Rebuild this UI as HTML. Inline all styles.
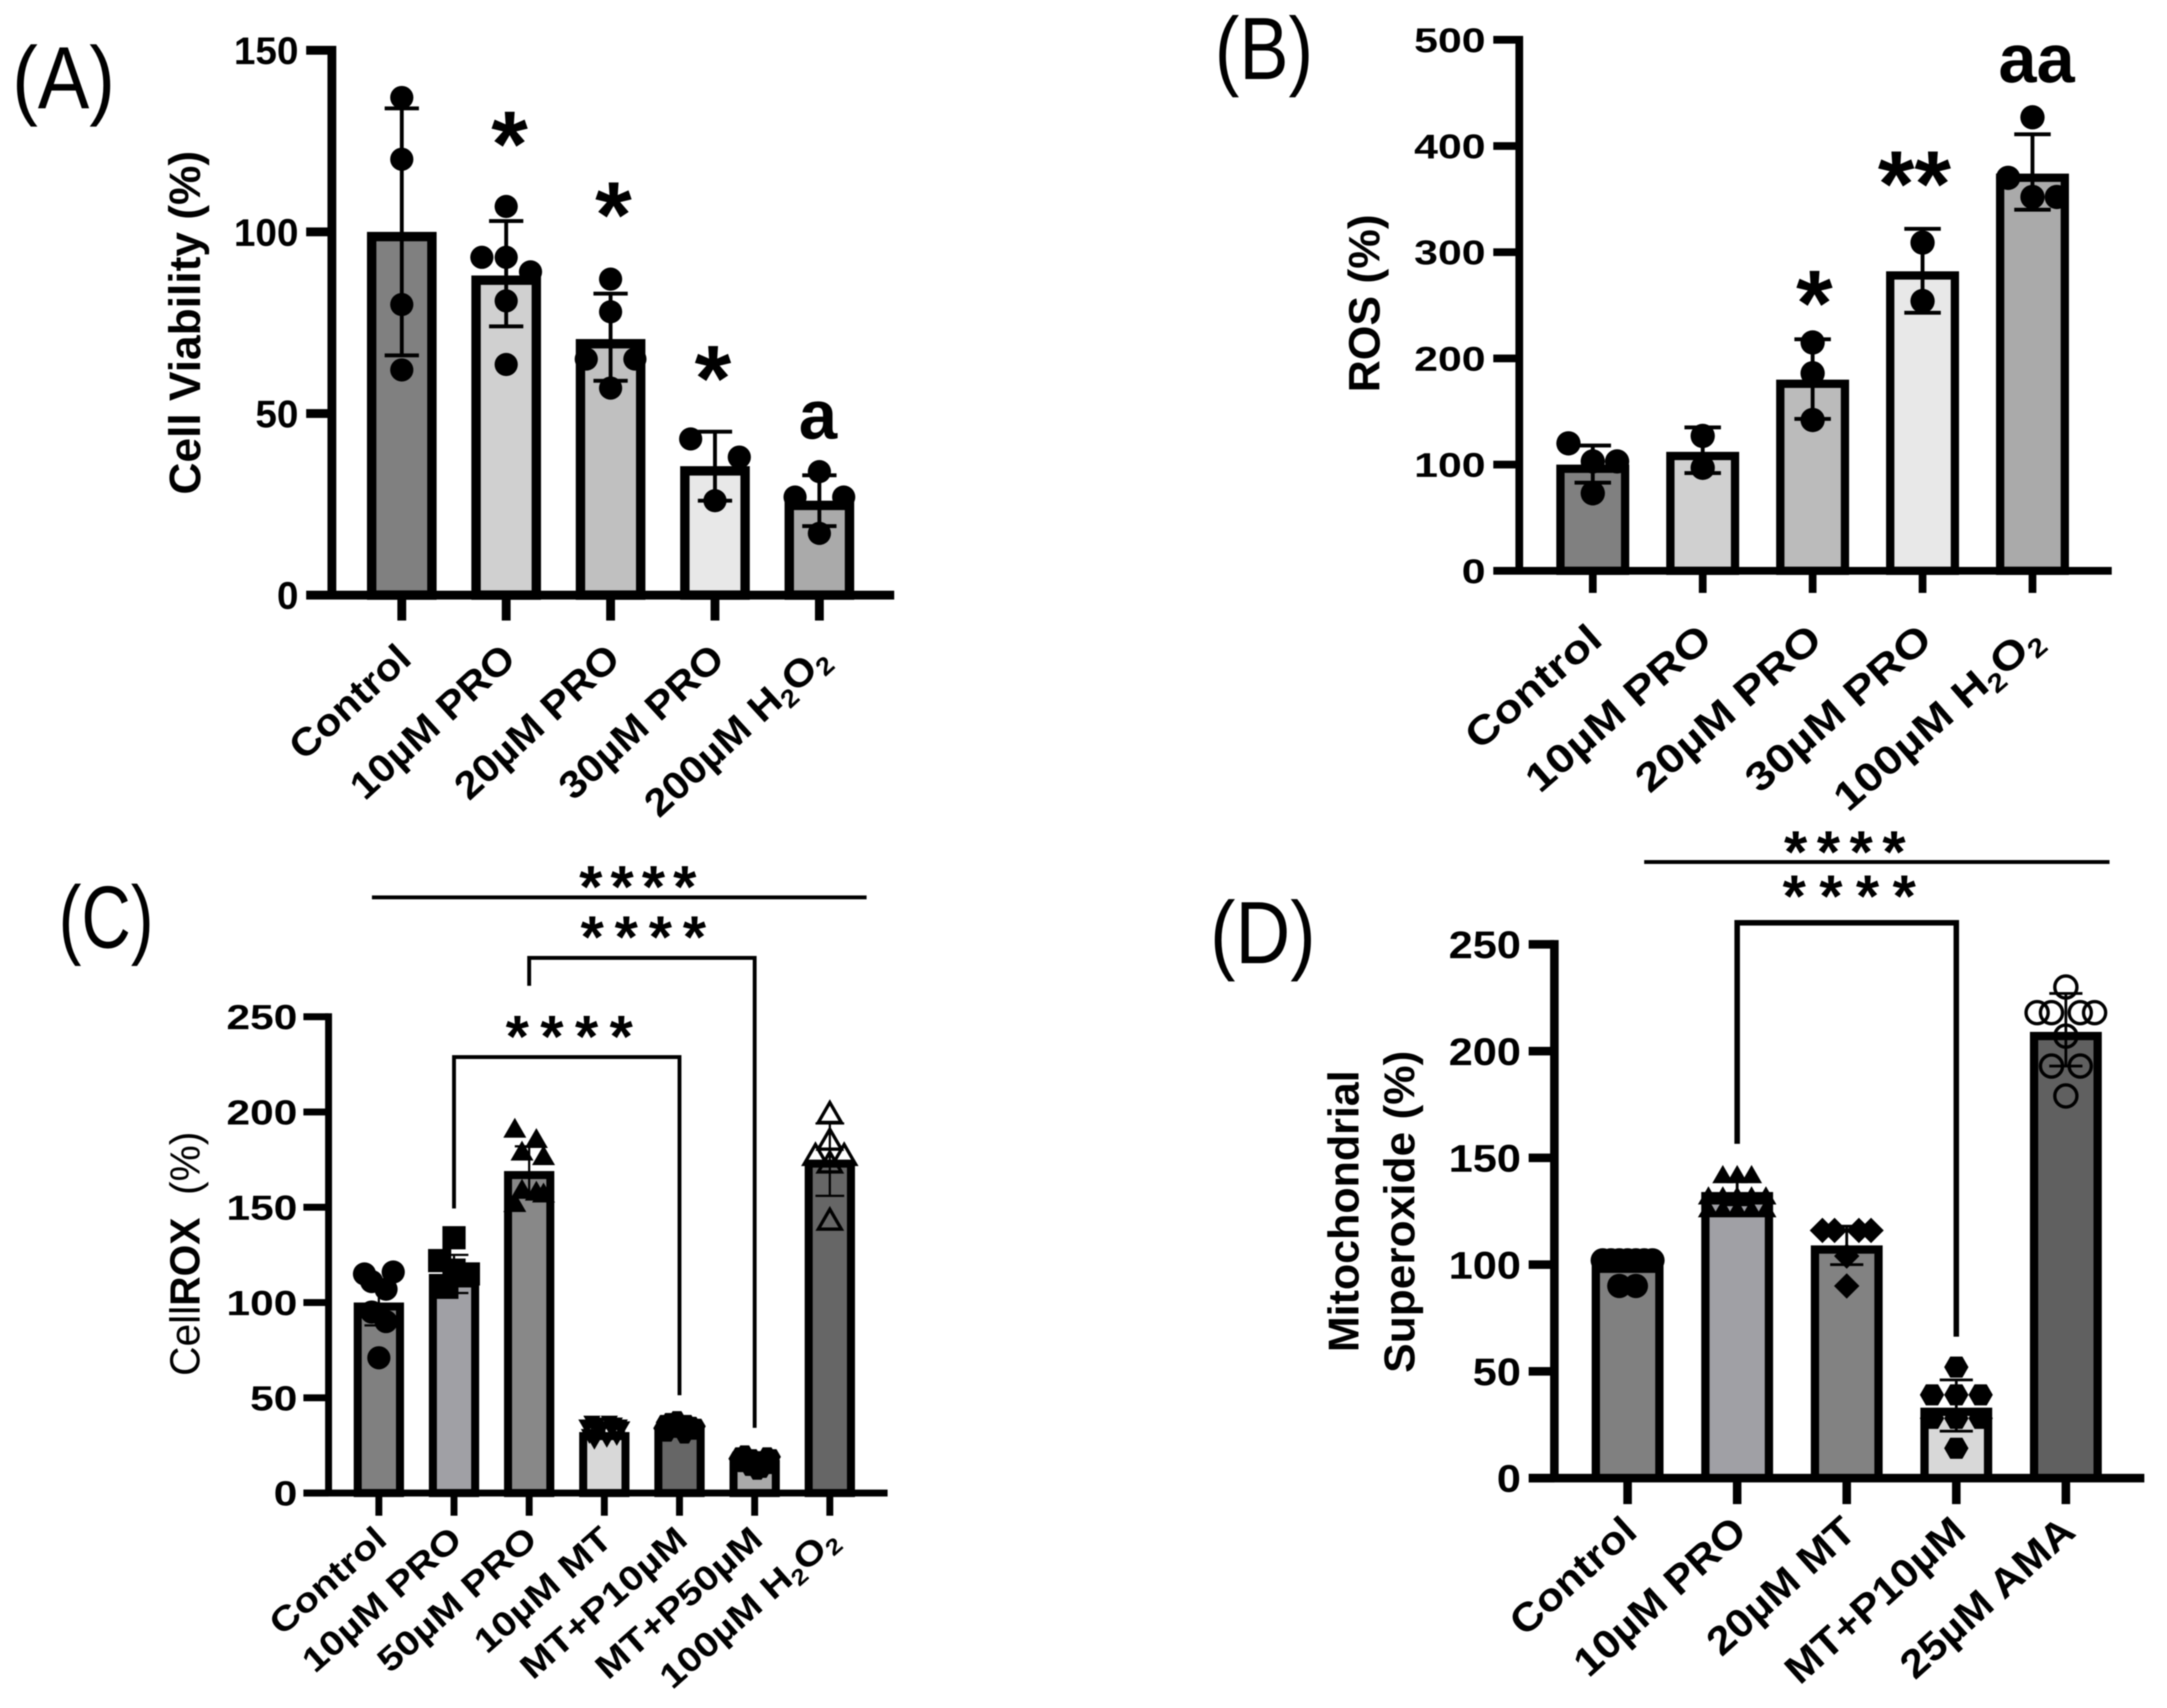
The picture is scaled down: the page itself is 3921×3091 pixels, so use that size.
<!DOCTYPE html>
<html lang="en">
<head>
<meta charset="utf-8">
<title>Cell viability, ROS, CellROX and mitochondrial superoxide bar charts</title>
<style>
html,body{margin:0;padding:0;background:#fff;}
svg{display:block;filter:blur(1px);}
text{font-family:"Liberation Sans",Arial,sans-serif;fill:#000;white-space:pre;}
.b{font-weight:700;}
</style>
</head>
<body>
<svg id="figure" xmlns="http://www.w3.org/2000/svg" width="3921" height="3091" viewBox="0 0 3921 3091">
  <rect x="0" y="0" width="3921" height="3091" fill="#fff"/>

  <g id="panel-a">
    <text x="115" y="196" font-size="160" text-anchor="middle" textLength="186" lengthAdjust="spacingAndGlyphs">(A)</text>
    <text class="b" transform="translate(362,584) rotate(-90)" font-size="80" text-anchor="middle" textLength="622" lengthAdjust="spacingAndGlyphs">Cell Viability (%)</text>
  </g>
  <g id="panel-b">
    <text x="2287" y="143" font-size="160" text-anchor="middle" textLength="178" lengthAdjust="spacingAndGlyphs">(B)</text>
    <text class="b" transform="translate(2496,549) rotate(-90)" font-size="80" text-anchor="middle" textLength="322" lengthAdjust="spacingAndGlyphs">ROS (%)</text>
  </g>
  <g id="panel-c">
    <text x="192" y="1715" font-size="160" text-anchor="middle" textLength="172" lengthAdjust="spacingAndGlyphs">(C)</text>
    <text transform="translate(361,2269) rotate(-90)" font-size="76" text-anchor="middle" textLength="442" lengthAdjust="spacingAndGlyphs">Cell<tspan class="b">ROX</tspan>  (%)</text>
  </g>
  <g id="panel-d">
    <text x="2285" y="1743" font-size="160" text-anchor="middle" textLength="191" lengthAdjust="spacingAndGlyphs">(D)</text>
    <text class="b" transform="translate(2458,2192) rotate(-90)" font-size="78" text-anchor="middle" textLength="510" lengthAdjust="spacingAndGlyphs">Mitochondrial</text>
    <text class="b" transform="translate(2559,2193) rotate(-90)" font-size="78" text-anchor="middle" textLength="583" lengthAdjust="spacingAndGlyphs">Superoxide (%)</text>
  </g>
</svg>
<script>
/* ---------- Panel A data ---------- */
const aCategories = ['Control', '10µM PRO', '20µM PRO', '30µM PRO', '200µM H2O2'];
const aTicks = [0, 50, 100, 150];
const aMeans = [100, 88, 70.5, 35.5, 26];
const aErrLow = [66, 74, 59, 26, 19];
const aErrHigh = [134, 103, 83, 45, 33];
const aPoints = [
  [137, 120, 80, 62],
  [107, 93, 93, 89, 81, 63.5],
  [87, 78, 65, 65, 57],
  [43, 38, 26],
  [34, 27, 27, 17]
];

/* ---------- Panel B data ---------- */
const bCategories = ['Control', '10µM PRO', '20µM PRO', '30µM PRO', '100µM H2O2'];
const bTicks = [0, 100, 200, 300, 400, 500];
const bMeans = [100, 112, 180, 282, 374];
const bErrLow = [83, 92, 143, 243, 340];
const bErrHigh = [118, 135, 218, 322, 411];
const bPoints = [
  [120, 103, 103, 73],
  [127, 97],
  [215, 186, 142],
  [309, 254],
  [427, 370, 352, 352]
];

/* ---------- Panel C data ---------- */
const cCategories = ['Control', '10µM PRO', '50µM PRO', '10µM MT', 'MT+P10µM', 'MT+P50µM', '100µM H2O2'];
const cTicks = [0, 50, 100, 150, 200, 250];
const cMeans = [100, 115, 169, 32, 34, 17.5, 175];
const cErrLow = [88, 105, 155, 30, 31, 14, 156];
const cErrHigh = [112, 125, 182, 36, 37, 20, 194];
const cPoints = [
  [115, 111, 107, 116, 95, 90, 71],
  [134, 122, 108, 117, 114, 115],
  [190, 178, 184.6, 175.6, 151, 158, 157, 156],
  [36, 31, 38, 28, 37, 33, 35, 29, 38, 34, 37, 30, 36, 35],
  [34, 37, 31, 38, 35, 33, 39, 36, 30, 37, 34, 36, 32, 35],
  [18, 20, 15, 21, 17, 13, 19, 11, 18, 12, 16, 20, 14, 19],
  [198, 184, 176, 172, 176, 142]
];

/* ---------- Panel D data ---------- */
const dCategories = ['Control', '10µM PRO', '20µM MT', 'MT+P10µM', '25µM AMA'];
const dTicks = [0, 50, 100, 150, 200, 250];
const dMeans = [100, 134, 109, 33, 209];
const dErrLow = [97, 128, 100, 22, 193];
const dErrHigh = [106, 140, 118, 46, 227];
const dPoints = [
  [102, 102, 102, 102, 102, 102, 102, 90, 90],
  [141, 141, 141, 131, 131, 131, 131, 131, 125, 125, 125, 125, 125],
  [116, 116, 116, 116, 104, 90],
  [52, 39, 39, 39, 28, 28, 28, 14],
  [230, 218, 218, 218, 218, 207, 193, 193, 179]
];

const SVGNS = 'http://www.w3.org/2000/svg';

function make(parent, tag, attrs) {
  const el = document.createElementNS(SVGNS, tag);
  for (const k in attrs) el.setAttribute(k, attrs[k]);
  parent.appendChild(el);
  return el;
}

function markerPath(kind, x, y, r) {
  const pts = [];
  let sides = 0, start = 0;
  if (kind === 'triangle' || kind === 'openTriangle') { sides = 3; start = -90; }
  if (kind === 'invTriangle') { sides = 3; start = 90; }
  if (kind === 'diamond') { sides = 4; start = 0; }
  if (kind === 'hexagon') { sides = 6; start = 0; }
  for (let i = 0; i < sides; i++) {
    const a = (start + i * 360 / sides) * Math.PI / 180;
    pts.push((x + r * Math.cos(a)).toFixed(1) + ',' + (y + r * Math.sin(a)).toFixed(1));
  }
  return pts.join(' ');
}

function swarmOffsets(values, gap, step) {
  /* groups neighbouring values, then spreads each group sideways */
  const out = new Array(values.length).fill(0);
  const order = values.map((v, i) => i).sort((p, q) => values[q] - values[p] || p - q);
  let group = [];
  const flush = () => {
    const idx = group.slice().sort((p, q) => p - q);
    const n = idx.length;
    idx.forEach((id, k) => {
      let slot = k - (n - 1) / 2;
      if (n % 2 === 0) slot = slot < 0 ? slot - 0.5 : slot + 0.5;
      out[id] = slot * step;
    });
    group = [];
  };
  order.forEach((id, k) => {
    if (k > 0 && values[order[k - 1]] - values[id] >= gap) flush();
    group.push(id);
  });
  flush();
  return out;
}

function drawPanel(cfg) {
  const g = document.getElementById(cfg.id);
  const yMax = cfg.ticks[cfg.ticks.length - 1];
  const yScale = v => cfg.y0 - (v / yMax) * (cfg.y0 - cfg.yTop);
  const xScale = i => cfg.firstX + i * cfg.stepX;

  cfg.means.forEach((m, i) => {
    const bar = make(g, 'rect', {
      x: xScale(i) - cfg.barW / 2 + cfg.barStroke / 2,
      y: yScale(m) + cfg.barStroke / 2,
      width: cfg.barW - cfg.barStroke,
      height: Math.max(0, cfg.y0 - yScale(m) - cfg.barStroke / 2),
      fill: cfg.fills[i],
      stroke: '#000',
      'stroke-width': cfg.barStroke
    });
    
    
  });

  cfg.points.forEach((vals, i) => {
    const offs = swarmOffsets(vals, cfg.gaps[i], cfg.swarmStep[i]);
    const kind = cfg.markers[i];
    const r = cfg.sizes[i];
    vals.forEach((v, k) => {
      const px = xScale(i) + offs[k];
      const py = yScale(v);
      let mark;
      if (kind === 'circle') {
        mark = make(g, 'circle', { cx: px, cy: py, r: r, fill: '#000' });
      } else if (kind === 'openCircle') {
        mark = make(g, 'circle', { cx: px, cy: py, r: r, fill: 'none', stroke: '#000', 'stroke-width': 6 });
      } else if (kind === 'square') {
        mark = make(g, 'rect', { x: px - r, y: py - r, width: 2 * r, height: 2 * r, fill: '#000' });
      } else if (kind === 'openTriangle') {
        mark = make(g, 'polygon', { points: markerPath(kind, px, py, r), fill: 'none', stroke: '#000', 'stroke-width': 6 });
      } else {
        mark = make(g, 'polygon', { points: markerPath(kind, px, py, r), fill: '#000' });
      }
      
      
    });
  });

  cfg.means.forEach((m, i) => {
    const cx = xScale(i);
    const stem = make(g, 'line', { x1: cx, x2: cx, y1: yScale(cfg.low[i]), y2: yScale(cfg.high[i]), stroke: '#000', 'stroke-width': cfg.errStroke });
    
    
    [cfg.low[i], cfg.high[i]].forEach(val => {
      const cap = make(g, 'line', { x1: cx - cfg.capW / 2, x2: cx + cfg.capW / 2, y1: yScale(val), y2: yScale(val), stroke: '#000', 'stroke-width': cfg.errStroke });
      
      
    });
  });

  const yAxis = make(g, 'line', { x1: cfg.x0, x2: cfg.x0, y1: cfg.yTop - cfg.axisStroke / 2, y2: cfg.y0, stroke: '#000', 'stroke-width': cfg.axisStroke });
  
  
  const xAxis = make(g, 'line', { x1: cfg.tickLeft, x2: cfg.xRight, y1: cfg.y0, y2: cfg.y0, stroke: '#000', 'stroke-width': cfg.axisStroke });
  
  

  cfg.ticks.forEach(t => {
    const ty = yScale(t);
    const tick = make(g, 'line', { x1: cfg.tickLeft, x2: cfg.x0, y1: ty, y2: ty, stroke: '#000', 'stroke-width': cfg.axisStroke });
    
    
    const lab = make(g, 'text', {
      transform: 'translate(' + cfg.tickTextX + ',' + (ty + cfg.tickFs * 0.36) + ') scale(' + cfg.tickStretch + ',1)',
      'font-size': cfg.tickFs,
      'font-weight': 700,
      'text-anchor': 'end'
    });
    lab.textContent = String(t);
    
    
  });

  cfg.cats.forEach((c, i) => {
    const cx = xScale(i);
    const tick = make(g, 'line', { x1: cx, x2: cx, y1: cfg.y0, y2: cfg.tickBottom, stroke: '#000', 'stroke-width': cfg.axisStroke });
    
    
    const lab = make(g, 'text', {
      transform: 'translate(' + (cx + cfg.labelDx) + ',' + cfg.labelY + ') rotate(' + cfg.labelAngle + ') scale(' + cfg.labelStretch + ',1)',
      'font-size': cfg.labelFs,
      'font-weight': 700,
      'text-anchor': 'end'
    });
    
    
    const hit = c.indexOf('H2O2');
    if (hit < 0) {
      lab.textContent = c;
    } else {
      lab.appendChild(document.createTextNode(c.slice(0, hit) + 'H'));
      const s1 = make(lab, 'tspan', { dy: cfg.labelFs * 0.2, 'font-size': cfg.labelFs * 0.65 });
      s1.textContent = '2';
      const o = make(lab, 'tspan', { dy: -cfg.labelFs * 0.2 });
      o.textContent = 'O';
      const s2 = make(lab, 'tspan', { dy: cfg.labelFs * 0.2, 'font-size': cfg.labelFs * 0.65 });
      s2.textContent = '2';
    }
  });

  return { g, xScale, yScale };
}

function stars(g, text, cx, cy, fs, width) {
  const t = make(g, 'text', { x: cx, y: cy + fs * 0.56, 'font-size': fs, 'font-weight': 700, 'text-anchor': 'middle' });
  if (width) t.setAttribute('textLength', width);
  t.textContent = text;
  
  
}

function letterMark(g, text, cx, base, fs) {
  const t = make(g, 'text', { x: cx, y: base, 'font-size': fs, 'font-weight': 700, 'text-anchor': 'middle' });
  t.textContent = text;
  
  
}

function bracket(g, xa, ya, top, xb, yb, w) {
  const p = make(g, 'polyline', {
    points: xa + ',' + ya + ' ' + xa + ',' + top + ' ' + xb + ',' + top + ' ' + xb + ',' + yb,
    fill: 'none', stroke: '#000', 'stroke-width': w
  });
  
  
}

function spanLine(g, xa, xb, y, w) {
  const l = make(g, 'line', { x1: xa, x2: xb, y1: y, y2: y, stroke: '#000', 'stroke-width': w });
  
  
}

const A = drawPanel({
  id: 'panel-a', cats: aCategories, ticks: aTicks, means: aMeans, low: aErrLow, high: aErrHigh, points: aPoints,
  x0: 600.5, yTop: 91, y0: 1077, tickLeft: 554, xRight: 1618, tickBottom: 1123,
  firstX: 727, stepX: 188.9, barW: 126, barStroke: 17, axisStroke: 16,
  fills: ['#808080', '#d0d0d0', '#c0c0c0', '#e8e8e8', '#aaaaaa'],
  markers: ['circle', 'circle', 'circle', 'circle', 'circle'], sizes: [21, 21, 21, 21, 21],
  swarmStep: [44, 44, 44, 44, 44], gaps: [6, 6, 6, 6, 6], capW: 62, errStroke: 7,
  tickFs: 70, tickStretch: 1, tickTextX: 540,
  labelFs: 70, labelStretch: 1.08, labelAngle: -42.5, labelDx: 21, labelY: 1197
});
stars(A.g, '*', 922, 224, 170);
stars(A.g, '*', 1110, 352, 170);
stars(A.g, '*', 1290, 648, 170);
letterMark(A.g, 'a', 1480, 794, 125);

const B = drawPanel({
  id: 'panel-b', cats: bCategories, ticks: bTicks, means: bMeans, low: bErrLow, high: bErrHigh, points: bPoints,
  x0: 2749, yTop: 72, y0: 1033, tickLeft: 2702, xRight: 3821, tickBottom: 1073,
  firstX: 2882, stepX: 198.9, barW: 132, barStroke: 15, axisStroke: 14,
  fills: ['#808080', '#d0d0d0', '#bbbbbb', '#e8e8e8', '#aaaaaa'],
  markers: ['circle', 'circle', 'circle', 'circle', 'circle'], sizes: [22, 22, 22, 22, 22],
  swarmStep: [44, 44, 44, 44, 44], gaps: [20, 20, 20, 20, 20], capW: 66, errStroke: 7,
  tickFs: 62, tickStretch: 1.25, tickTextX: 2688,
  labelFs: 72, labelStretch: 1.17, labelAngle: -41, labelDx: 21, labelY: 1163
});
stars(B.g, '*', 3283, 512, 170);
stars(B.g, '**', 3464, 296, 170);
letterMark(B.g, 'aa', 3685, 149, 124);

const C = drawPanel({
  id: 'panel-c', cats: cCategories, ticks: cTicks, means: cMeans, low: cErrLow, high: cErrHigh, points: cPoints,
  x0: 594.5, yTop: 1840, y0: 2702, tickLeft: 549, xRight: 1606, tickBottom: 2743,
  firstX: 685.5, stepX: 136, barW: 91, barStroke: 14.5, axisStroke: 12.5,
  fills: ['#808080', '#a0a0a5', '#888888', '#d8d8d8', '#666666', '#aaaaaa', '#666666'],
  markers: ['circle', 'square', 'triangle', 'invTriangle', 'hexagon', 'hexagon', 'openTriangle'],
  sizes: [21, 21, 24, 18, 16, 16, 24],
  swarmStep: [13, 13, 13, 4.5, 4.5, 4.5, 26], gaps: [12, 12, 12, 12, 12, 12, 7], capW: 52, errStroke: 4,
  tickFs: 63, tickStretch: 1.22, tickTextX: 538,
  labelFs: 62, labelStretch: 1.17, labelAngle: -41.5, labelDx: 18, labelY: 2791
});
spanLine(C.g, 673, 1568, 1624, 7);
stars(C.g, '****', 1154, 1581, 108, 212);
stars(C.g, '****', 1164, 1672, 108, 227);
stars(C.g, '****', 1030, 1852, 108, 230);
bracket(C.g, C.xScale(2), 1784, 1733.5, C.xScale(5), 2584, 7);
bracket(C.g, C.xScale(1), 2187, 1913, C.xScale(4), 2525, 7);

const D = drawPanel({
  id: 'panel-d', cats: dCategories, ticks: dTicks, means: dMeans, low: dErrLow, high: dErrHigh, points: dPoints,
  x0: 2812.5, yTop: 1709, y0: 2675, tickLeft: 2766, xRight: 3880, tickBottom: 2722,
  firstX: 2945, stepX: 198.25, barW: 130, barStroke: 15, axisStroke: 15.5,
  fills: ['#808080', '#a0a0a5', '#828282', '#d8d8d8', '#606060'],
  markers: ['circle', 'triangle', 'diamond', 'hexagon', 'openCircle'],
  sizes: [22, 22, 23, 22, 20],
  swarmStep: [15, 26, 22, 44, 26], gaps: [5, 5, 5, 8, 10], capW: 60, errStroke: 5,
  tickFs: 70, tickStretch: 1.12, tickTextX: 2752,
  labelFs: 72, labelStretch: 1.09, labelAngle: -42, labelDx: 21, labelY: 2777
});
spanLine(D.g, 2975, 3817, 1560, 7);
stars(D.g, '****', 3338, 1518, 108, 220);
stars(D.g, '****', 3346, 1598, 108, 241);
bracket(D.g, D.xScale(1), 2070, 1670, D.xScale(3), 2419, 10);
</script>
</body>
</html>
